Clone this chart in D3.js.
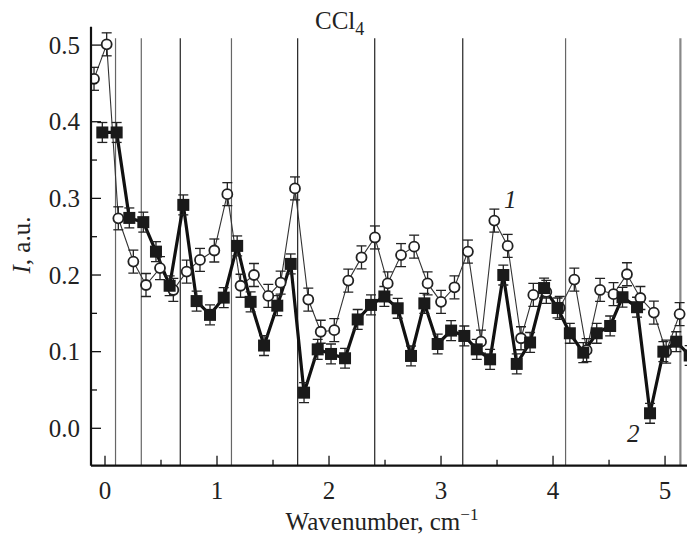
<!DOCTYPE html>
<html>
<head>
<meta charset="utf-8">
<script src="https://cdn.jsdelivr.net/npm/d3@7"></script>
<style>
  body { margin: 0; background: #fff; }
  text { font-family: "Liberation Serif", "Times New Roman", serif; }
</style>
</head>
<body>
<div id="chart-area"></div>
<script>
// series 1 (open circles)
const x1 = [-0.098, 0.015, 0.119, 0.253, 0.366, 0.491, 0.61, 0.729, 0.848, 0.976, 1.092,
  1.21, 1.33, 1.458, 1.568, 1.696, 1.815, 1.926, 2.047, 2.172, 2.29, 2.41, 2.524, 2.643,
  2.76, 2.88, 3.0, 3.12, 3.24, 3.357, 3.476, 3.595, 3.714, 3.824, 3.94, 4.06, 4.19, 4.30,
  4.42, 4.54, 4.66, 4.78, 4.90, 5.01, 5.13];
const y1 = [0.456, 0.501, 0.274, 0.2175, 0.187, 0.209, 0.1805, 0.2045, 0.2197, 0.232, 0.3055,
  0.186, 0.200, 0.1727, 0.19, 0.313, 0.168, 0.126, 0.128, 0.1927, 0.223, 0.249, 0.189, 0.226,
  0.237, 0.189, 0.165, 0.184, 0.2306, 0.113, 0.271, 0.238, 0.1175, 0.174, 0.178, 0.157, 0.194, 0.102,
  0.1805, 0.175, 0.201, 0.17, 0.151, 0.100, 0.149];
const err1 = 0.015;

// series 2 (filled squares)
const x2 = [-0.024, 0.104, 0.217, 0.342, 0.455, 0.577, 0.699, 0.818, 0.9375, 1.06, 1.18,
  1.30, 1.42, 1.538, 1.658, 1.777, 1.899, 2.018, 2.143, 2.256, 2.375, 2.494, 2.613, 2.732,
  2.851, 2.97, 3.09, 3.208, 3.319, 3.438, 3.556, 3.676, 3.795, 3.92, 4.04, 4.15, 4.27, 4.39,
  4.51, 4.62, 4.75, 4.866, 4.985, 5.1, 5.22];
const y2 = [0.386, 0.386, 0.2745, 0.269, 0.2305, 0.186, 0.2915, 0.166, 0.148, 0.1705, 0.238,
  0.165, 0.108, 0.16, 0.2145, 0.0465, 0.103, 0.097, 0.0914, 0.142, 0.161, 0.172, 0.1566, 0.0944,
  0.163, 0.110, 0.1275, 0.1205, 0.103, 0.090, 0.200, 0.084, 0.112, 0.183, 0.157, 0.124, 0.0987, 0.124,
  0.1335, 0.171, 0.158, 0.0196, 0.100, 0.113, 0.095];
const err2 = 0.013;

// vertical reference lines
const vlines = [0.094, 0.324, 0.672, 1.129, 1.72, 2.408, 3.194, 4.112, 5.137];

const xTicks = [0, 1, 2, 3, 4, 5];
const yTicks = [0.0, 0.1, 0.2, 0.3, 0.4, 0.5];

const svgWidth = 687;
const svgHeight = 536;
const mLeft = 91, mRight = 687, mTop = 26.7, mBottom = 465.7;

const svg = d3.select("#chart-area")
              .append("svg")
              .attr("width", svgWidth)
              .attr("height", svgHeight);

const x = d3.scaleLinear().domain([-0.125, 5.196]).range([mLeft, mRight]);
const y = d3.scaleLinear().domain([-0.0488, 0.524]).range([mBottom, mTop]);

svg.append("clipPath").attr("id", "clip")
   .append("rect").attr("x", mLeft).attr("y", 0)
   .attr("width", mRight - mLeft).attr("height", mBottom);

const plot = svg.append("g").attr("clip-path", "url(#clip)");

// vertical lines
plot.selectAll("line.v")
    .data(vlines)
    .enter()
    .append("line")
      .attr("class", "v")
      .attr("x1", d => x(d)).attr("x2", d => x(d))
      .attr("y1", y(0.509)).attr("y2", mBottom)
      .attr("stroke", (d, i) => i === vlines.length - 1 ? "#888" : (i < 2 || i === 3 || i === 7 ? "#666" : "#222"))
      .attr("stroke-width", (d, i) => i === vlines.length - 1 ? 2.2 : 1.2);

const s1 = x1.map((d, i) => ({ x: d, y: y1[i] }));
const s2 = x2.map((d, i) => ({ x: d, y: y2[i] }));

const line = d3.line().x(d => x(d.x)).y(d => y(d.y));

plot.append("path").datum(s1)
    .attr("d", line).attr("fill", "none")
    .attr("stroke", "#333").attr("stroke-width", 1.1);

plot.append("path").datum(s2)
    .attr("d", line).attr("fill", "none")
    .attr("stroke", "#111").attr("stroke-width", 3.2);

function errorBars(data, err) {
  const g = plot.append("g").attr("stroke", "#222").attr("stroke-width", 1.3);
  g.selectAll("line.e").data(data).enter().append("line").attr("class", "e")
   .attr("x1", d => x(d.x)).attr("x2", d => x(d.x))
   .attr("y1", d => y(d.y - err)).attr("y2", d => y(d.y + err));
  g.selectAll("line.t").data(data).enter().append("line").attr("class", "t")
   .attr("x1", d => x(d.x) - 5).attr("x2", d => x(d.x) + 5)
   .attr("y1", d => y(d.y + err)).attr("y2", d => y(d.y + err));
  g.selectAll("line.b").data(data).enter().append("line").attr("class", "b")
   .attr("x1", d => x(d.x) - 5).attr("x2", d => x(d.x) + 5)
   .attr("y1", d => y(d.y - err)).attr("y2", d => y(d.y - err));
}

errorBars(s1, err1);
errorBars(s2, err2);

plot.selectAll("circle.s1")
    .data(s1)
    .enter()
    .append("circle")
      .attr("class", "s1")
      .attr("cx", d => x(d.x))
      .attr("cy", d => y(d.y))
      .attr("r", 5)
      .attr("fill", "#fff")
      .attr("stroke", "#222")
      .attr("stroke-width", 1.8);

plot.selectAll("rect.s2")
    .data(s2)
    .enter()
    .append("rect")
      .attr("class", "s2")
      .attr("x", d => x(d.x) - 6)
      .attr("y", d => y(d.y) - 6)
      .attr("width", 12)
      .attr("height", 12)
      .attr("fill", "#1a1a1a");

// axis lines
svg.append("line").attr("x1", mLeft).attr("x2", mRight)
   .attr("y1", mBottom).attr("y2", mBottom)
   .attr("stroke", "#111").attr("stroke-width", 2.2);
svg.append("line").attr("x1", mLeft).attr("x2", mLeft)
   .attr("y1", mTop).attr("y2", mBottom)
   .attr("stroke", "#111").attr("stroke-width", 2.2);

// x ticks (inward)
svg.selectAll("line.xt")
   .data(d3.range(0, 5.01, 0.5))
   .enter()
   .append("line")
     .attr("class", "xt")
     .attr("x1", d => x(d)).attr("x2", d => x(d))
     .attr("y1", mBottom)
     .attr("y2", (d, i) => mBottom - (i % 2 === 0 ? 10 : 6))
     .attr("stroke", "#111").attr("stroke-width", 1.3);

svg.selectAll("text.xl")
   .data(xTicks)
   .enter()
   .append("text")
     .attr("class", "xl")
     .attr("x", d => x(d))
     .attr("y", 499)
     .attr("text-anchor", "middle")
     .attr("font-size", 25)
     .attr("fill", "#222")
     .text(d => d);

// y ticks (inward)
svg.selectAll("line.yt")
   .data(d3.range(-0.05, 0.5201, 0.05).filter(d => y(d) >= mTop && y(d) <= mBottom))
   .enter()
   .append("line")
     .attr("class", "yt")
     .attr("x1", mLeft)
     .attr("x2", d => mLeft + (Math.abs(Math.round(d * 20)) % 2 === 0 ? 10 : 6))
     .attr("y1", d => y(d)).attr("y2", d => y(d))
     .attr("stroke", "#111").attr("stroke-width", 1.3);

svg.selectAll("text.yl")
   .data(yTicks)
   .enter()
   .append("text")
     .attr("class", "yl")
     .attr("x", 80)
     .attr("y", d => y(d))
     .attr("dy", "0.34em")
     .attr("text-anchor", "end")
     .attr("font-size", 25)
     .attr("fill", "#222")
     .text(d => d.toFixed(1));

// title
const title = svg.append("text")
   .attr("x", 315).attr("y", 29)
   .attr("font-size", 25).attr("fill", "#222");
title.append("tspan").text("CCl");
title.append("tspan").attr("font-size", 18).attr("dy", 6).text("4");

// x label
const xl = svg.append("text")
   .attr("x", 382).attr("y", 530)
   .attr("text-anchor", "middle")
   .attr("font-size", 25).attr("fill", "#222");
xl.append("tspan").text("Wavenumber, cm");
xl.append("tspan").attr("font-size", 17).attr("dy", -10).text("\u22121");

// y label
const yl = svg.append("text")
   .attr("transform", "translate(30, 245) rotate(-90)")
   .attr("text-anchor", "middle")
   .attr("font-size", 25).attr("fill", "#222");
yl.append("tspan").attr("font-style", "italic").text("I");
yl.append("tspan").text(", a.u.");

// series labels
svg.append("text").attr("x", 504).attr("y", 208)
   .attr("font-size", 25).attr("font-style", "italic").attr("fill", "#222").text("1");
svg.append("text").attr("x", 627).attr("y", 442)
   .attr("font-size", 25).attr("font-style", "italic").attr("fill", "#222").text("2");
</script>
</body>
</html>
